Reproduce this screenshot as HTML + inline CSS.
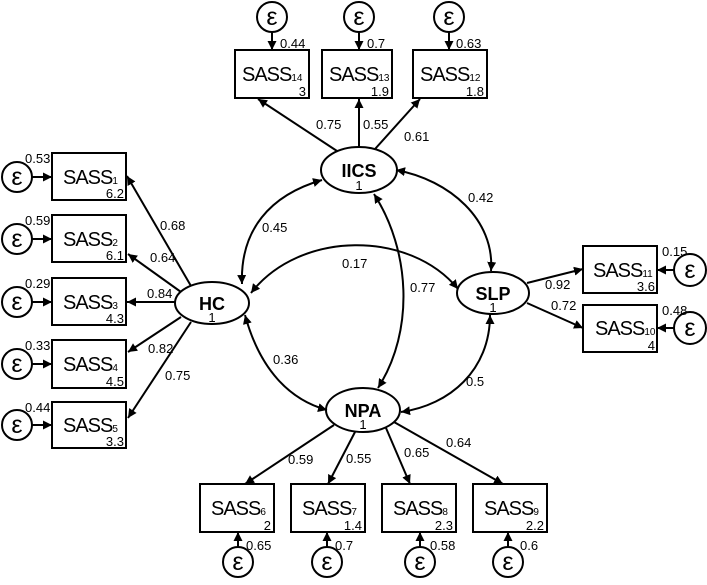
<!DOCTYPE html>
<html><head><meta charset="utf-8"><style>
html,body{margin:0;padding:0;background:#fff}
svg{display:block}
text{font-family:"Liberation Sans",sans-serif;fill:#000}
.n{font-size:13px}
.b{font-size:18px;font-weight:bold}
.s{font-size:20px;letter-spacing:-1px}
</style></head><body>
<svg width="707" height="585" viewBox="0 0 707 585" xmlns="http://www.w3.org/2000/svg">
<defs>
<marker id="a" viewBox="0 0 10 10" refX="10" refY="5" markerWidth="9" markerHeight="9" markerUnits="userSpaceOnUse" orient="auto-start-reverse"><path d="M0,0L10,5L0,10z" fill="#000"/></marker>
</defs>
<g fill="none" stroke="#000" stroke-width="2">
<ellipse cx="359" cy="170" rx="38" ry="23"/>
<ellipse cx="212" cy="303" rx="37" ry="21"/>
<ellipse cx="493" cy="293" rx="36" ry="21"/>
<ellipse cx="363" cy="410" rx="37" ry="22"/>
<rect x="235" y="50" width="74" height="48"/>
<rect x="322" y="50" width="70" height="48"/>
<rect x="413" y="50" width="74" height="48"/>
<rect x="52" y="153" width="74" height="47"/>
<rect x="52" y="215" width="74" height="47"/>
<rect x="52" y="278" width="74" height="47"/>
<rect x="52" y="340" width="74" height="48"/>
<rect x="52" y="402" width="74" height="46"/>
<rect x="583" y="246" width="74" height="47"/>
<rect x="583" y="305" width="74" height="47"/>
<rect x="200" y="484" width="74" height="48"/>
<rect x="291" y="484" width="74" height="48"/>
<rect x="382" y="484" width="74" height="48"/>
<rect x="473" y="484" width="74" height="48"/>
<circle cx="272" cy="17" r="15"/><circle cx="359" cy="17" r="15"/><circle cx="449" cy="17" r="15"/>
<circle cx="17" cy="177" r="15"/><circle cx="17" cy="239" r="15"/><circle cx="17" cy="302" r="15"/><circle cx="17" cy="364" r="15"/><circle cx="17" cy="425" r="15"/>
<circle cx="690" cy="270" r="16"/><circle cx="690" cy="328" r="16"/>
<circle cx="238" cy="562" r="15"/><circle cx="327" cy="562" r="15"/><circle cx="420" cy="562" r="15"/><circle cx="508" cy="562" r="15"/>
</g>
<g fill="none" stroke="#000" stroke-width="2" marker-end="url(#a)">
<line x1="272" y1="32" x2="272" y2="50"/><line x1="359" y1="32" x2="359" y2="50"/><line x1="449" y1="32" x2="449" y2="50"/>
<line x1="32" y1="177" x2="52" y2="177"/><line x1="32" y1="239" x2="52" y2="239"/><line x1="32" y1="302" x2="52" y2="302"/><line x1="32" y1="364" x2="52" y2="364"/><line x1="32" y1="425" x2="52" y2="425"/>
<line x1="674" y1="270" x2="657" y2="270"/><line x1="674" y1="328" x2="657" y2="328"/>
<line x1="238" y1="547" x2="238" y2="532"/><line x1="327" y1="547" x2="327" y2="532"/><line x1="420" y1="547" x2="420" y2="532"/><line x1="508" y1="547" x2="508" y2="532"/>
<line x1="337" y1="151" x2="258" y2="99"/><line x1="359" y1="147" x2="359" y2="99"/><line x1="375" y1="149" x2="420" y2="99"/>
<line x1="191" y1="286" x2="127" y2="176"/><line x1="181" y1="292" x2="128" y2="254"/><line x1="175" y1="302" x2="127" y2="302"/><line x1="181" y1="317" x2="128" y2="352"/><line x1="191" y1="322" x2="128" y2="418"/>
<line x1="527" y1="283" x2="583" y2="269"/><line x1="527" y1="303" x2="583" y2="328"/>
<line x1="334" y1="425" x2="245" y2="484"/><line x1="355" y1="432" x2="328" y2="484"/><line x1="386" y1="428" x2="410" y2="484"/><line x1="394" y1="422" x2="503" y2="484"/>
</g>
<g fill="none" stroke="#000" stroke-width="2" marker-start="url(#a)" marker-end="url(#a)">
<path d="M322,180 C270,195 240,230 242,284"/>
<path d="M396,170 C450,180 495,220 491,271"/>
<path d="M251,293 C300,230 410,230 458,289"/>
<path d="M374,194 C410,250 415,330 378,388"/>
<path d="M245,315 C260,370 290,400 327,410"/>
<path d="M490,315 C490,370 450,405 401,412"/>
</g>
<text class="b" x="359" y="177" text-anchor="middle">IICS</text><text class="n" x="359" y="190" text-anchor="middle">1</text>
<text class="b" x="212" y="310" text-anchor="middle">HC</text><text class="n" x="212" y="322" text-anchor="middle">1</text>
<text class="b" x="493" y="300" text-anchor="middle">SLP</text><text class="n" x="493" y="312" text-anchor="middle">1</text>
<text class="b" x="363" y="417" text-anchor="middle">NPA</text><text class="n" x="363" y="429" text-anchor="middle">1</text>
<g class="s">
<text x="242" y="81">SASS<tspan font-size="10" letter-spacing="0">14</tspan></text>
<text x="329" y="81">SASS<tspan font-size="10" letter-spacing="0">13</tspan></text>
<text x="420" y="81">SASS<tspan font-size="10" letter-spacing="0">12</tspan></text>
<text x="63" y="184">SASS<tspan font-size="10" letter-spacing="0">1</tspan></text>
<text x="63" y="246">SASS<tspan font-size="10" letter-spacing="0">2</tspan></text>
<text x="63" y="309">SASS<tspan font-size="10" letter-spacing="0">3</tspan></text>
<text x="63" y="371">SASS<tspan font-size="10" letter-spacing="0">4</tspan></text>
<text x="63" y="432">SASS<tspan font-size="10" letter-spacing="0">5</tspan></text>
<text x="593" y="277">SASS<tspan font-size="10" letter-spacing="0">11</tspan></text>
<text x="595" y="335">SASS<tspan font-size="10" letter-spacing="0">10</tspan></text>
<text x="211" y="515">SASS<tspan font-size="10" letter-spacing="0">6</tspan></text>
<text x="302" y="515">SASS<tspan font-size="10" letter-spacing="0">7</tspan></text>
<text x="393" y="515">SASS<tspan font-size="10" letter-spacing="0">8</tspan></text>
<text x="484" y="515">SASS<tspan font-size="10" letter-spacing="0">9</tspan></text>
</g>
<g class="n" text-anchor="end">
<text x="306" y="96">3</text><text x="389" y="96">1.9</text><text x="484" y="96">1.8</text>
<text x="124" y="198">6.2</text><text x="124" y="260">6.1</text><text x="124" y="323">4.3</text><text x="124" y="386">4.5</text><text x="124" y="446">3.3</text>
<text x="655" y="291">3.6</text><text x="655" y="350">4</text>
<text x="271" y="530">2</text><text x="362" y="530">1.4</text><text x="453" y="530">2.3</text><text x="544" y="530">2.2</text>
</g>
<g font-family="Liberation Serif,serif" font-size="25" text-anchor="middle">
<text x="272" y="25">ε</text><text x="359" y="25">ε</text><text x="449" y="25">ε</text>
<text x="17" y="185">ε</text><text x="17" y="247">ε</text><text x="17" y="310">ε</text><text x="17" y="372">ε</text><text x="17" y="433">ε</text>
<text x="690" y="278">ε</text><text x="690" y="336">ε</text>
<text x="238" y="570">ε</text><text x="327" y="570">ε</text><text x="420" y="570">ε</text><text x="508" y="570">ε</text>
</g>
<g class="n">
<text x="280" y="48">0.44</text><text x="367" y="48">0.7</text><text x="456" y="48">0.63</text>
<text x="25" y="163">0.53</text><text x="25" y="225">0.59</text><text x="25" y="288">0.29</text><text x="25" y="350">0.33</text><text x="25" y="412">0.44</text>
<text x="662" y="256">0.15</text><text x="662" y="315">0.48</text>
<text x="246" y="550">0.65</text><text x="335" y="550">0.7</text><text x="430" y="550">0.58</text><text x="520" y="550">0.6</text>
<text x="316" y="129">0.75</text><text x="363" y="129">0.55</text><text x="404" y="141">0.61</text>
<text x="160" y="230">0.68</text><text x="150" y="262">0.64</text><text x="147" y="298">0.84</text><text x="148" y="353">0.82</text><text x="165" y="380">0.75</text>
<text x="468" y="202">0.42</text><text x="262" y="232">0.45</text><text x="342" y="268">0.17</text><text x="410" y="292">0.77</text><text x="273" y="364">0.36</text><text x="466" y="386">0.5</text>
<text x="545" y="289">0.92</text><text x="551" y="310">0.72</text>
<text x="288" y="464">0.59</text><text x="346" y="463">0.55</text><text x="404" y="457">0.65</text><text x="446" y="447">0.64</text>
</g>
</svg>
</body></html>
